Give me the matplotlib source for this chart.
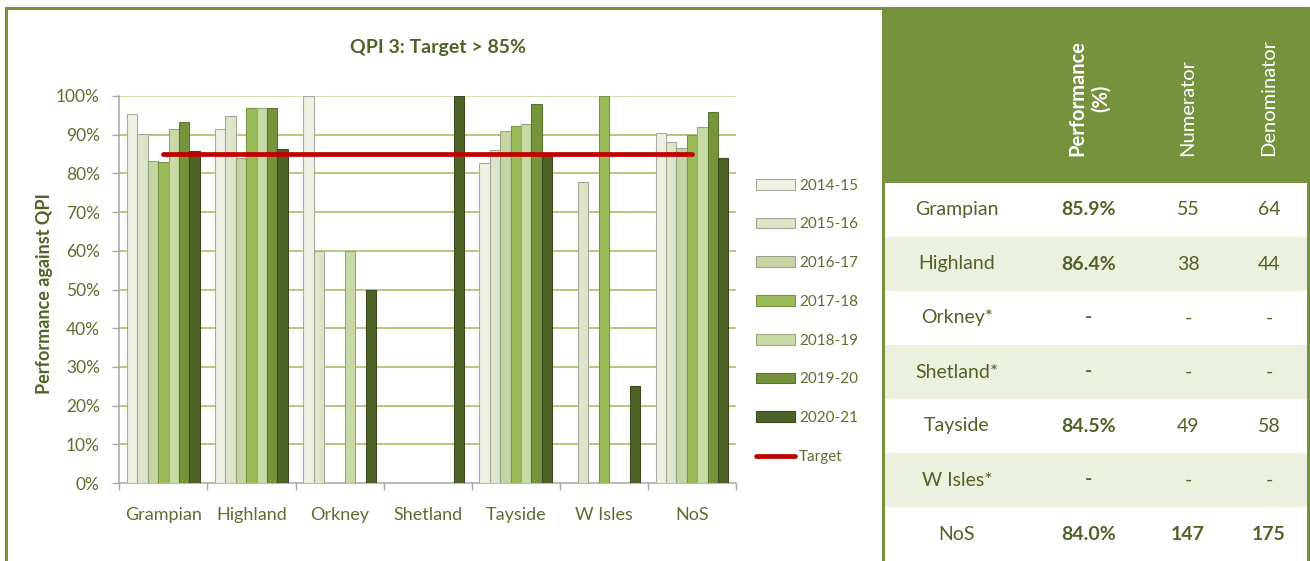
import numpy as np
import matplotlib
matplotlib.use("Agg")
import matplotlib.pyplot as plt
from matplotlib.patches import Rectangle
from matplotlib.lines import Line2D

# ---------------- data ----------------
categories = ['Grampian', 'Highland', 'Orkney', 'Shetland', 'Tayside', 'W Isles', 'NoS']
years = ['2014-15', '2015-16', '2016-17', '2017-18', '2018-19', '2019-20', '2020-21']
nan = np.nan
v2014_15 = [95.3, 91.6, 100.0, nan, 82.7, nan, 90.5]
v2015_16 = [90.3, 94.8, 60.0, nan, 86.0, 77.8, 88.0]
v2016_17 = [83.3, 84.1, nan, nan, 90.9, nan, 86.6]
v2017_18 = [82.9, 97.0, nan, nan, 92.3, 100.0, 89.8]
v2018_19 = [91.6, 97.0, 60.0, nan, 92.7, nan, 92.0]
v2019_20 = [93.3, 97.0, nan, nan, 97.9, nan, 95.9]
v2020_21 = [85.9, 86.4, 50.0, 100.0, 84.5, 25.0, 84.0]
target = 85
y_ticks = [0, 10, 20, 30, 40, 50, 60, 70, 80, 90, 100]

table_names = ['Grampian', 'Highland', 'Orkney*', 'Shetland*', 'Tayside', 'W Isles*', 'NoS']
table_perf = ['85.9%', '86.4%', '-', '-', '84.5%', '-', '84.0%']
table_num = ['55', '38', '-', '-', '49', '-', '147']
table_den = ['64', '44', '-', '-', '58', '-', '175']
table_headers = ['Performance\n(%)', 'Numerator', 'Denominator']

series = [v2014_15, v2015_16, v2016_17, v2017_18, v2018_19, v2019_20, v2020_21]
colors = ['#EEF1E4', '#DCE4CA', '#C6D5A3', '#9BBB59', '#C9D9A6', '#77933C', '#4F6228']
edges = ['#A8AC9E', '#A3A997', '#98A37F', '#7A9446', '#99A67D', '#5E7530', '#3A481D']

W, H = 1310, 561
FONT = 'Lato'
OLIVE = '#4F6228'
TXT = '#5C6E34'

fig = plt.figure(figsize=(W / 100, H / 100), dpi=100)
fig.patch.set_facecolor('white')


def fx(px):
    return px / W


def fy(py):
    return 1 - py / H


# ---------------- chart ----------------
ax = fig.add_axes([fx(119.3), fy(483), (736 - 119.3) / W, (483 - 96) / H])
x = np.arange(len(categories))
bw = 0.118
bar_handles = []
for i, (vals, c, ec, lab) in enumerate(zip(series, colors, edges, years)):
    b = ax.bar(x + (i - 3) * bw, vals, width=bw, color=c, edgecolor=ec, linewidth=0.8,
               label=lab, zorder=3)
    bar_handles.append(b)

tline, = ax.plot([x[0], x[-1]], [target, target], color='#C00000', lw=3.4,
                 solid_capstyle='round', zorder=4, label='Target')

ax.set_xlim(-0.5, len(categories) - 0.5)
ax.set_ylim(0, 100)
ax.set_yticks(y_ticks)
ax.set_yticklabels([f'{v}%' for v in y_ticks], fontsize=12.5, color=TXT, family=FONT)
for v in y_ticks[1:]:
    ax.axhline(v, color='#9BBB59' if v < 100 else '#C3D69B', lw=1.1, zorder=1)

ax.set_xticks(x)
ax.set_xticklabels(categories, fontsize=13, color=TXT, family=FONT)
ax.set_xticks(np.arange(-0.5, len(categories)), minor=True)
ax.tick_params(axis='x', which='major', length=0, pad=17)
ax.tick_params(axis='x', which='minor', length=5, color='#A6A6A6', width=1)
ax.tick_params(axis='y', length=5, color='#A6A6A6', width=1, pad=9)
for s in ['top', 'right']:
    ax.spines[s].set_visible(False)
for s in ['left', 'bottom']:
    ax.spines[s].set_color('#A6A6A6')
    ax.spines[s].set_linewidth(1.1)
ax.set_facecolor('none')

fig.text(fx(45), fy(294), 'Performance against QPI', rotation=90, ha='center', va='center',
         fontsize=13, fontweight='bold', color=OLIVE, family=FONT)
fig.text(fx(438), fy(48), 'QPI 3: Target > 85%', ha='center', va='center',
         fontsize=14, fontweight='bold', color=OLIVE, family=FONT)

handles = bar_handles + [tline]
labels = years + ['Target']
leg = fig.legend(handles, labels, loc='upper left', bbox_to_anchor=(fx(748), fy(171)),
                 frameon=False, handlelength=2.6, handletextpad=0.25,
                 labelspacing=1.62, borderpad=0, prop={'family': FONT, 'size': 11})
for t in leg.get_texts():
    t.set_color(TXT)

# ---------------- frame ----------------
fig.add_artist(Line2D([fx(6), fx(1308)], [fy(8), fy(8)], color='#76923C', lw=2.2))
fig.add_artist(Line2D([fx(6), fx(6)], [fy(8), fy(561)], color='#76923C', lw=2.2))
fig.add_artist(Line2D([fx(1308), fx(1308)], [fy(8), fy(561)], color='#76923C', lw=2.2))

# ---------------- table ----------------
tx0, tx1 = 882, 1308
fig.add_artist(Rectangle((fx(tx0), fy(183)), fx(tx1) - fx(tx0), fy(8) - fy(183),
                         transform=fig.transFigure, facecolor='#76923C', edgecolor='none'))
row_h = 54
for r in range(len(table_names)):
    top = 183 + r * row_h
    fc = 'white' if r % 2 == 0 else '#EBF1DE'
    fig.add_artist(Rectangle((fx(tx0), fy(top + row_h)), fx(tx1) - fx(tx0), row_h / H,
                             transform=fig.transFigure, facecolor=fc, edgecolor='none'))
fig.add_artist(Line2D([fx(883), fx(883)], [fy(8), fy(561)], color='#76923C', lw=2.2))

col_x = [957, 1089, 1188, 1269]
hdr_bold = ['bold', 'normal', 'normal']
for cx, h, wgt in zip(col_x[1:], table_headers, hdr_bold):
    fig.text(fx(cx), fy(156), h, rotation=90, ha='center', va='bottom', color='white',
             fontsize=14.5, fontweight=wgt, family=FONT, multialignment='center',
             linespacing=1.25)

for r in range(len(table_names)):
    cy = 183 + r * row_h + row_h / 2
    last = r == len(table_names) - 1
    fig.text(fx(col_x[0]), fy(cy), table_names[r], ha='center', va='center',
             fontsize=14, color=OLIVE, family=FONT)
    fig.text(fx(col_x[1]), fy(cy), table_perf[r], ha='center', va='center',
             fontsize=14, color=OLIVE, family=FONT, fontweight='bold')
    fig.text(fx(col_x[2]), fy(cy), table_num[r], ha='center', va='center',
             fontsize=14, color=OLIVE, family=FONT, fontweight='bold' if last else 'normal')
    fig.text(fx(col_x[3]), fy(cy), table_den[r], ha='center', va='center',
             fontsize=14, color=OLIVE, family=FONT, fontweight='bold' if last else 'normal')

fig.savefig('out.png', dpi=100)
